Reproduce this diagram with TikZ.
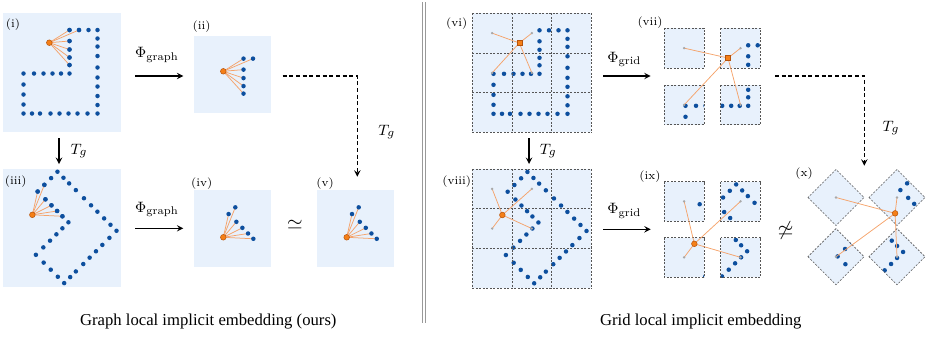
\documentclass[tikz,border=0pt]{standalone}
\usepackage{fontspec}
\newfontfamily\capfont{Liberation Serif}
\usetikzlibrary{arrows,positioning}

\definecolor{panelbg}{HTML}{E8F1FC}
\definecolor{dotblue}{HTML}{0D4F9E}
\definecolor{rayorange}{HTML}{F5A36B}
\definecolor{queryfill}{HTML}{F57F17}
\definecolor{querydraw}{HTML}{B5520A}
\definecolor{latentgray}{HTML}{A8A8A8}
\definecolor{celledge}{HTML}{555555}
\definecolor{sepgray}{HTML}{999999}

\tikzset{
  panel/.style={fill=panelbg},
  cellline/.style={draw=celledge, line width=0.35pt, dash pattern=on 1.2pt off 0.9pt},
  ray/.style={draw=rayorange, line width=0.45pt},
  query/.style={circle, fill=queryfill, draw=querydraw, line width=0.3pt, inner sep=0pt, minimum size=3.4pt},
  squery/.style={query, rectangle, minimum size=3pt},
  tag/.style={font=\fontsize{7}{8}\selectfont, inner sep=0pt},
  maplabel/.style={font=\fontsize{9.5}{11}\selectfont, inner sep=0pt},
  maparrow/.style={-stealth, line width=0.7pt},
  transarrow/.style={-stealth, line width=0.7pt, dash pattern=on 2.4pt off 1.6pt},
  caption/.style={font=\capfont\fontsize{10}{12}\selectfont, inner sep=0pt},
}

\newcommand\dotr{1.35pt}
% point cloud, centred on its panel
\newcommand\cloud{%
  \foreach \x/\y in {7.5/-42.5,17/-42.5,26.5/-42.5,35.5/-42.5,
    35.5/-34,35.5/-26,35.5/-16.5,35.5/-5,35.5/5,35.5/14,35.5/23.5,35.5/32.5,35.5/41,
    7.5/-31.5,7.5/-23,7.5/-15,7.5/-7.5,7.5/1,
    -38.5/1,-28/1,-18.5/1,-9.5/1,-1/1,
    -38.5/12,-38.5/22,-38.5/32,-38.5/41,
    -30/41,-22/41,-11.5/41,-2.5/41,6.5/41,15.5/41,25.5/41}
    \fill[dotblue] (\x,\y) circle (\dotr);
}
% query point and its graph neighbours
\newcommand\patch[1]{%
  \coordinate (#1-q) at (-12.7,-29.8);
  \foreach \x/\y [count=\k] in {7.5/-42.5,17/-42.5,7.5/-31.5,7.5/-23,7.5/-15,7.5/-7.5}{
    \coordinate (#1-n\k) at (\x,\y);
    \draw[ray] (#1-q) -- (#1-n\k);
    \fill[dotblue] (#1-n\k) circle (\dotr);
  }
  \node[query] (#1-o) at (#1-q) {};
}
% one grid cell cut out and moved: frame, grid top, col, row, box x, box y, latent name, extra
\newcommand\gridcopy[8]{%
  \begin{scope}[shift={({#5-472.3-39.7*#3},{#6-#2-39.7*#4})}]
    \fill[panel] ({472.3+39.7*#3},{#2+39.7*#4}) rectangle ++(39.7,39.7);
    \begin{scope}
      \clip ({472.3+39.7*#3},{#2+39.7*#4}) rectangle ++(39.7,39.7);
      \begin{scope}[#1] \cloud \end{scope}
    \end{scope}
    \draw[cellline] ({472.3+39.7*#3},{#2+39.7*#4}) rectangle ++(39.7,39.7);
    \coordinate (#7) at ({492.15+39.7*#3},{#2+19.85+39.7*#4});
    \begin{scope}[#1] #8 \end{scope}
  \end{scope}
}

\begin{document}
\begin{tikzpicture}[x=0.6pt, y=-0.6pt]
\useasboundingbox (0,0) rectangle (936,337);

% ---------- graph local implicit embedding
\fill[panel] (3,13) rectangle (121,132);
\begin{scope}[shift={(62,72.5)}] \cloud \patch{i} \end{scope}

\fill[panel] (194.3,36) rectangle (270.7,112.7);
\begin{scope}[shift={(223.3,71.3)}, shift={(12.7,29.8)}] \patch{ii} \end{scope}

\fill[panel] (3,169) rectangle (121,287.3);
\begin{scope}[shift={(62,228.3)}, rotate around={45:(-1.5,-1.2)}] \cloud \patch{iii} \end{scope}

\fill[panel] (194.3,190) rectangle (270.7,266.7);
\begin{scope}[shift={(223.3,237.3)}, rotate=45, shift={(12.7,29.8)}] \patch{iv} \end{scope}

\fill[panel] (317.3,190) rectangle (394,266.7);
\begin{scope}[shift={(346.7,237.3)}, rotate=45, shift={(12.7,29.8)}] \patch{v} \end{scope}

\node[tag] (ti) at (13,25) {(i)};
\node[tag] (tii) at (201.7,26.7) {(ii)};
\node[tag] (tiii) at (15.7,181.7) {(iii)};
\node[tag] (tiv) at (201.7,183.3) {(iv)};
\node[tag] (tv) at (325,183.3) {(v)};

\coordinate (g1s) at (135,76); \coordinate (g1e) at (183.3,76);
\draw[maparrow] (g1s) -- (g1e);
\node[maplabel] (phig1) at (157,55) {$\Phi_{\mathrm{graph}}$};
\coordinate (g2s) at (135,228.3); \coordinate (g2e) at (183.3,228.3);
\draw[maparrow] (g2s) -- (g2e);
\node[maplabel] (phig2) at (157,209.3) {$\Phi_{\mathrm{graph}}$};

\coordinate (t1s) at (59,138.3); \coordinate (t1e) at (59,164);
\draw[maparrow] (t1s) -- (t1e);
\node[maplabel] (tg1) at (79,151) {$T_g$};
\coordinate (d1s) at (282.7,76); \coordinate (d1c) at (357.3,76); \coordinate (d1e) at (357.3,176.7);
\draw[transarrow] (d1s) -- (d1c) -- (d1e);
\node[maplabel] (tg2) at (386.7,132) {$T_g$};

\node[font=\fontsize{12}{14}\selectfont, inner sep=0pt] (sim) at (295,225) {$\simeq$};
\node[caption] (capg) at (208.3,321.7) {Graph local implicit embedding (ours)};

% separator
\draw[sepgray, line width=0.6pt] (422.7,2) -- (422.7,323);
\draw[sepgray, line width=0.6pt] (425,2) -- (425,323);

% ---------- grid local implicit embedding
\fill[panel] (472.3,13.3) rectangle ++(119.1,119.1);
\begin{scope}[shift={(532,72.8)}] \cloud \coordinate (vi-q) at (-12.7,-29.8); \end{scope}
\foreach \k in {0,1,2,3} {
  \draw[cellline] ({472.3+39.7*\k},13.3) -- ++(0,119.1);
  \draw[cellline] (472.3,{13.3+39.7*\k}) -- ++(119.1,0);
}
\foreach \c/\r/\n in {0/0/a,1/0/b,0/1/c,1/1/d}
  \coordinate (vi-\n) at ({492.15+39.7*\c},{33.15+39.7*\r});
\foreach \n in {a,b,c,d} \draw[ray] (vi-q) -- (vi-\n);
\foreach \n in {a,b,c,d} \fill[latentgray] (vi-\n) circle (0.8pt);
\node[squery] (vi-o) at (vi-q) {};

\gridcopy{shift={(532,72.8)}}{13.3}{0}{0}{664.3}{28.3}{vii-a}{}
\gridcopy{shift={(532,72.8)}}{13.3}{1}{0}{720.7}{28.3}{vii-b}{\coordinate (vii-q) at (-12.7,-29.8);}
\gridcopy{shift={(532,72.8)}}{13.3}{0}{1}{664.3}{85}{vii-c}{}
\gridcopy{shift={(532,72.8)}}{13.3}{1}{1}{720.7}{85}{vii-d}{}
\foreach \n in {a,b,c,d} \draw[ray] (vii-q) -- (vii-\n);
\foreach \n in {a,b,c,d} \fill[latentgray] (vii-\n) circle (0.8pt);
\node[squery] (vii-o) at (vii-q) {};

\fill[panel] (472.3,169) rectangle ++(119.1,119.1);
\begin{scope}[shift={(532,228.5)}, rotate around={45:(-1.5,-1.2)}] \cloud \coordinate (viii-q) at (-12.7,-29.8); \end{scope}
\foreach \k in {0,1,2,3} {
  \draw[cellline] ({472.3+39.7*\k},169) -- ++(0,119.1);
  \draw[cellline] (472.3,{169+39.7*\k}) -- ++(119.1,0);
}
\foreach \c/\r/\n in {0/0/a,1/0/b,0/1/c,1/1/d}
  \coordinate (viii-\n) at ({492.15+39.7*\c},{188.85+39.7*\r});
\foreach \n in {a,b,c,d} \draw[ray] (viii-q) -- (viii-\n);
\foreach \n in {a,b,c,d} \fill[latentgray] (viii-\n) circle (0.8pt);
\node[query] (viii-o) at (viii-q) {};

\gridcopy{shift={(532,228.5)}, rotate around={45:(-1.5,-1.2)}}{169}{0}{0}{664.3}{181.5}{ix-a}{}
\gridcopy{shift={(532,228.5)}, rotate around={45:(-1.5,-1.2)}}{169}{1}{0}{720.7}{181.5}{ix-b}{}
\gridcopy{shift={(532,228.5)}, rotate around={45:(-1.5,-1.2)}}{169}{0}{1}{664.3}{237.5}{ix-c}{\coordinate (ix-q) at (-12.7,-29.8);}
\gridcopy{shift={(532,228.5)}, rotate around={45:(-1.5,-1.2)}}{169}{1}{1}{720.7}{237.5}{ix-d}{}
\foreach \n in {a,b,c,d} \draw[ray] (ix-q) -- (ix-\n);
\foreach \n in {a,b,c,d} \fill[latentgray] (ix-\n) circle (0.8pt);
\node[query] (ix-o) at (ix-q) {};

\begin{scope}[shift={(836,197.5)}, rotate=45, shift={(-684.15,-48.15)}]
  \gridcopy{shift={(532,72.8)}}{13.3}{0}{0}{664.3}{28.3}{x-a}{}
\end{scope}
\begin{scope}[shift={(897,197.5)}, rotate=45, shift={(-740.55,-48.15)}]
  \gridcopy{shift={(532,72.8)}}{13.3}{1}{0}{720.7}{28.3}{x-b}{\coordinate (x-q) at (-12.7,-29.8);}
\end{scope}
\begin{scope}[shift={(836,256.7)}, rotate=45, shift={(-684.15,-104.85)}]
  \gridcopy{shift={(532,72.8)}}{13.3}{0}{1}{664.3}{85}{x-c}{}
\end{scope}
\begin{scope}[shift={(897,256.7)}, rotate=45, shift={(-740.55,-104.85)}]
  \gridcopy{shift={(532,72.8)}}{13.3}{1}{1}{720.7}{85}{x-d}{}
\end{scope}
\foreach \n in {a,b,c,d} \draw[ray] (x-q) -- (x-\n);
\foreach \n in {a,b,c,d} \fill[latentgray] (x-\n) circle (0.8pt);
\node[query] (x-o) at (x-q) {};

\node[tag] (tvi) at (456.7,24) {(vi)};
\node[tag] (tvii) at (650,22.3) {(vii)};
\node[tag] (tviii) at (456.7,181.7) {(viii)};
\node[tag] (tix) at (650,176.7) {(ix)};
\node[tag] (tx) at (804,173.3) {(x)};

\coordinate (r1s) at (603.3,76); \coordinate (r1e) at (650.7,76);
\draw[maparrow] (r1s) -- (r1e);
\node[maplabel] (phir1) at (624.3,59.3) {$\Phi_{\mathrm{grid}}$};
\coordinate (r2s) at (603.3,229.3); \coordinate (r2e) at (650.7,229.3);
\draw[maparrow] (r2s) -- (r2e);
\node[maplabel] (phir2) at (624.3,211) {$\Phi_{\mathrm{grid}}$};

\coordinate (t3s) at (529,138.3); \coordinate (t3e) at (529,164);
\draw[maparrow] (t3s) -- (t3e);
\node[maplabel] (tg3) at (548.3,151) {$T_g$};
\coordinate (d2s) at (775,76); \coordinate (d2c) at (864.3,76); \coordinate (d2e) at (864.3,165.7);
\draw[transarrow] (d2s) -- (d2c) -- (d2e);
\node[maplabel] (tg4) at (891,128) {$T_g$};

\node[font=\fontsize{12}{14}\selectfont, inner sep=0pt] (nsim) at (785.7,230) {$\not\simeq$};
\node[caption] (capr) at (700.8,321.7) {Grid local implicit embedding};
\end{tikzpicture}
\end{document}
